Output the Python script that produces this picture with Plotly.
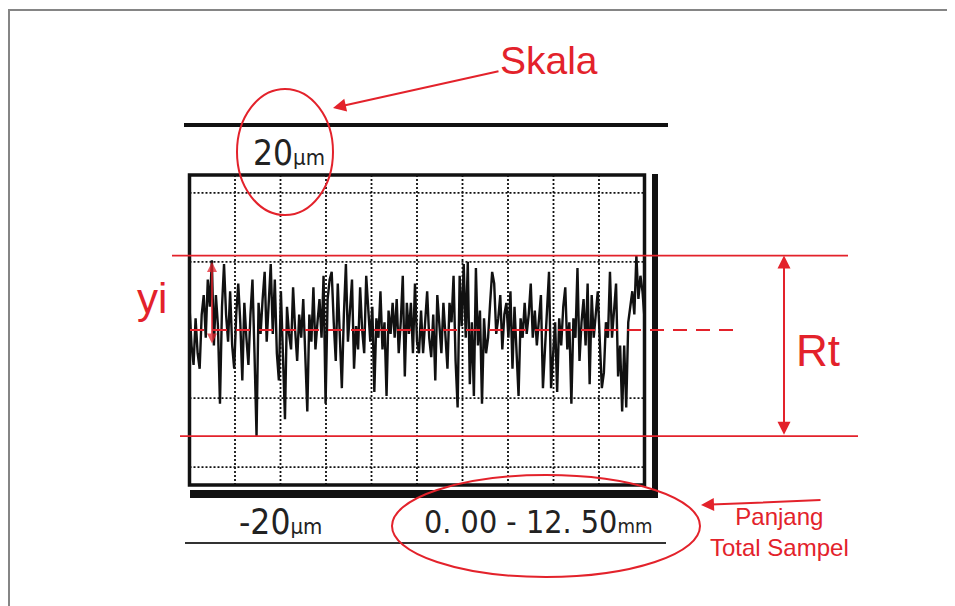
import numpy as np
import plotly.graph_objects as go

SCREEN_W, SCREEN_H = 955, 606
OFF = 8  # page body margin
W, H = SCREEN_W - OFF, SCREEN_H - OFF

# ---------------- data ----------------
# roughness profile heights (µm), sampled evenly over the evaluation length
profile_um = [
    3.0, -2.0, -4.5, 1.5, -3.0, -5.0, 2.0, 4.5, -1.0, 6.5,
    3.0, 9.0, -2.0, 4.5, 0.5, -9.5, 3.0, 8.5, 2.0, -1.5,
    5.0, -2.0, -5.0, 2.0, 6.0, 1.0, -6.5, 3.5, -1.0, -4.5,
    2.0, 6.5, -3.0, -13.7, 3.5, -0.5, 4.0, 7.5, -1.5, 3.0,
    8.5, -0.5, 6.5, -3.0, -6.5, 5.0, -2.0, -11.5, 3.0, -0.5,
    -2.5, 5.5, 0.0, -4.0, 2.0, -1.0, 4.0, -3.0, -10.5, 2.0,
    -1.5, 5.5, -2.5, 1.0, 4.0, -1.0, 7.0, -9.5, 4.0, 6.5,
    7.5, 1.0, -4.0, 6.0, -0.5, -7.5, 2.0, 8.5, -1.5, 3.0,
    6.5, -5.0, 0.5, -2.5, 5.5, 0.0, -3.0, 7.0, 2.0, -1.5,
    3.0, -8.0, 1.5, -1.0, 5.0, -2.5, 1.0, -8.5, 2.5, -0.5,
    3.5, -1.0, 4.0, -3.0, 1.0, 7.0, -6.0, 3.5, -0.5, 3.5,
    -3.0, 6.0, -1.5, -3.0, 2.5, -3.0, 1.0, 5.0, -1.0, -3.5,
    2.0, -6.5, 4.5, 0.0, -3.0, 3.5, -1.5, -5.0, 3.5, 1.0,
    7.0, -4.0, -10.0, 7.0, 0.5, 8.5, -1.0, 8.8, -7.0, 1.0,
    -8.5, 8.0, -2.0, 2.5, -9.5, 1.5, -3.0, -1.0, 3.5, 7.5,
    6.0, -0.5, 1.5, 4.5, -2.5, 2.0, 3.5, -1.0, 5.0, -5.0,
    3.0, -2.0, -8.5, 1.5, -1.0, 3.5, -0.5, 2.0, 6.0, -1.0,
    2.5, -2.0, 1.0, 4.5, -7.5, -2.0, 3.0, 7.5, -7.5, -2.5,
    1.0, -8.0, 1.5, -2.0, 3.0, 5.5, -2.5, 1.0, -9.5, 1.5,
    -1.0, 8.0, -4.0, 1.0, 4.0, -2.0, 6.0, -7.0, 4.5, -1.0,
    2.0, 5.0, -1.5, -7.5, -5.5, 1.0, -1.0, 7.5, -1.0, 3.0,
    6.0, -6.0, -2.0, -10.5, -2.0, -10.0, 1.0, 3.0, 5.0, 2.0,
    9.6, 4.0, 7.0, 5.0, 1.5,
]
length_mm = 12.5
scale_um = 20
grid_x_mm = [1.25, 2.5, 3.75, 5.0, 6.25, 7.5, 8.75, 10.0, 11.25]
grid_y_um = [17.7, 8.8, -8.8, -17.7]

label_top = "20µm"
label_bottom = "-20µm"
label_length = "0. 00 - 12. 50"
label_skala = "Skala"
label_rt = "Rt"
label_yi = "yi"
label_panjang = "Panjang<br>Total Sampel"

RED = "#e3222b"
BLACK = "#111111"

# ---------------- scales (screen pixel <-> data) ----------------
PX_PER_MM = 36.4
X0_PX = 189.5
PX_PER_UM = 7.75
Y0_PX = 330.0


def dx(px):
    return (px - X0_PX) / PX_PER_MM


def dy(py):
    return (Y0_PX - py) / PX_PER_UM


def pxp(px):
    return (px - OFF) / W


def pyp(py):
    return 1 - (py - OFF) / H


x_mm = np.linspace(0, length_mm, len(profile_um))
ymax = max(profile_um)
ymin = min(profile_um)

fig = go.Figure()
fig.add_trace(go.Scatter(
    x=x_mm, y=profile_um, mode="lines",
    line=dict(color=BLACK, width=2.4),
    hoverinfo="skip", showlegend=False,
))

shapes = []
# outer frame (top & left edges)
shapes.append(dict(type="line", xref="paper", yref="paper", x0=pxp(9), x1=pxp(9),
                   y0=pyp(9), y1=pyp(606), line=dict(color="#858585", width=2)))
shapes.append(dict(type="line", xref="paper", yref="paper", x0=pxp(8), x1=pxp(955),
                   y0=pyp(10), y1=pyp(10), line=dict(color="#858585", width=2)))

# grid
for gx in grid_x_mm:
    shapes.append(dict(type="line", xref="x", yref="y", x0=gx, x1=gx,
                       y0=-scale_um, y1=scale_um, layer="below",
                       line=dict(color="#111", width=1.8, dash="2px,2px")))
for gy in grid_y_um:
    shapes.append(dict(type="line", xref="x", yref="y", x0=0, x1=length_mm,
                       y0=gy, y1=gy, layer="below",
                       line=dict(color="#111", width=1.8, dash="2px,2px")))
# chart box
shapes.append(dict(type="rect", xref="x", yref="y", x0=0, x1=length_mm,
                   y0=-scale_um, y1=scale_um, line=dict(color=BLACK, width=3.5)))
# right thick bar
shapes.append(dict(type="line", xref="paper", yref="paper", x0=pxp(655), x1=pxp(655),
                   y0=pyp(174), y1=pyp(492), line=dict(color=BLACK, width=6)))
# bottom thick bar
shapes.append(dict(type="line", xref="paper", yref="paper", x0=pxp(190), x1=pxp(658),
                   y0=pyp(494), y1=pyp(494), line=dict(color=BLACK, width=8)))
# top scale line
shapes.append(dict(type="line", xref="paper", yref="paper", x0=pxp(184), x1=pxp(668),
                   y0=pyp(125), y1=pyp(125), line=dict(color=BLACK, width=4)))
# thin bottom line
shapes.append(dict(type="line", xref="paper", yref="paper", x0=pxp(185), x1=pxp(666),
                   y0=pyp(543), y1=pyp(543), line=dict(color="#333", width=2)))

# Rt limit lines (at the highest peak and deepest valley)
shapes.append(dict(type="line", xref="paper", yref="y", x0=pxp(172), x1=pxp(848),
                   y0=ymax, y1=ymax, line=dict(color=RED, width=1.8)))
shapes.append(dict(type="line", xref="paper", yref="y", x0=pxp(180), x1=pxp(858),
                   y0=ymin, y1=ymin, line=dict(color=RED, width=1.8)))
# mean line
shapes.append(dict(type="line", xref="paper", yref="y", x0=pxp(190), x1=pxp(740),
                   y0=0, y1=0, line=dict(color=RED, width=1.8, dash="14px,9px")))

# ellipses
shapes.append(dict(type="circle", xref="paper", yref="paper", x0=pxp(237), x1=pxp(333),
                   y0=pyp(89), y1=pyp(215), line=dict(color=RED, width=2)))
shapes.append(dict(type="circle", xref="paper", yref="paper", x0=pxp(392), x1=pxp(700),
                   y0=pyp(475), y1=pyp(577), line=dict(color=RED, width=2)))

annotations = []
mono = "DejaVu Sans Condensed, Liberation Sans Narrow, sans-serif"
arial = "Liberation Sans, Arial, sans-serif"


def label(x, y, text, family, size, color):
    return dict(xref="paper", yref="paper", x=pxp(x), y=pyp(y), text=text,
                xanchor="center", yanchor="middle", showarrow=False,
                font=dict(family=family, size=size, color=color))


um_span = "<span style='font-size:22px'>µm</span>"
annotations.append(label(289, 153, label_top.replace("µm", um_span), mono, 35, "#222"))
annotations.append(label(280, 522, label_bottom.replace("µm", um_span), mono, 35, "#222"))
annotations.append(label(538, 522, label_length + "<span style='font-size:20px'>mm</span>",
                         mono, 32, "#222"))

# Skala with arrow
annotations.append(dict(xref="x", yref="y", x=dx(333), y=dy(108),
                        axref="x", ayref="y", ax=dx(549), ay=dy(60),
                        text=label_skala, showarrow=True, arrowhead=2, arrowsize=1.3,
                        arrowwidth=2, arrowcolor=RED,
                        font=dict(family=arial, size=39, color=RED)))
# Rt double arrow
annotations.append(dict(xref="x", yref="y", x=dx(784), y=ymax,
                        axref="x", ayref="y", ax=dx(784), ay=ymin,
                        text="", showarrow=True, arrowhead=2, startarrowhead=2,
                        arrowside="end+start", arrowsize=1.3, startarrowsize=1.3,
                        arrowwidth=2, arrowcolor=RED))
annotations.append(label(818, 351, label_rt, arial, 44, RED))
# yi
annotations.append(dict(xref="x", yref="y", x=dx(212), y=dy(262),
                        axref="x", ayref="y", ax=dx(212), ay=dy(345),
                        text="", showarrow=True, arrowhead=2, startarrowhead=2,
                        arrowside="end+start", arrowsize=1, startarrowsize=1,
                        arrowwidth=2, arrowcolor="rgba(227,34,43,0.75)"))
annotations.append(label(152, 298, label_yi, arial, 42, RED))
# Panjang total sampel
annotations.append(dict(xref="x", yref="y", x=dx(701), y=dy(505),
                        axref="x", ayref="y", ax=dx(822), ay=dy(500),
                        text="", showarrow=True, arrowhead=2, arrowsize=1.3,
                        arrowwidth=2, arrowcolor=RED))
annotations.append(label(779, 532, label_panjang, arial, 24, RED))

fig.update_layout(
    width=W, height=H,
    margin=dict(l=0, r=0, t=0, b=0),
    paper_bgcolor="white", plot_bgcolor="white",
    xaxis=dict(visible=False, range=[dx(OFF), dx(SCREEN_W)], fixedrange=True),
    yaxis=dict(visible=False, range=[dy(SCREEN_H), dy(OFF)], fixedrange=True),
    shapes=shapes, annotations=annotations,
    showlegend=False,
)

fig.write_html("out.html")
